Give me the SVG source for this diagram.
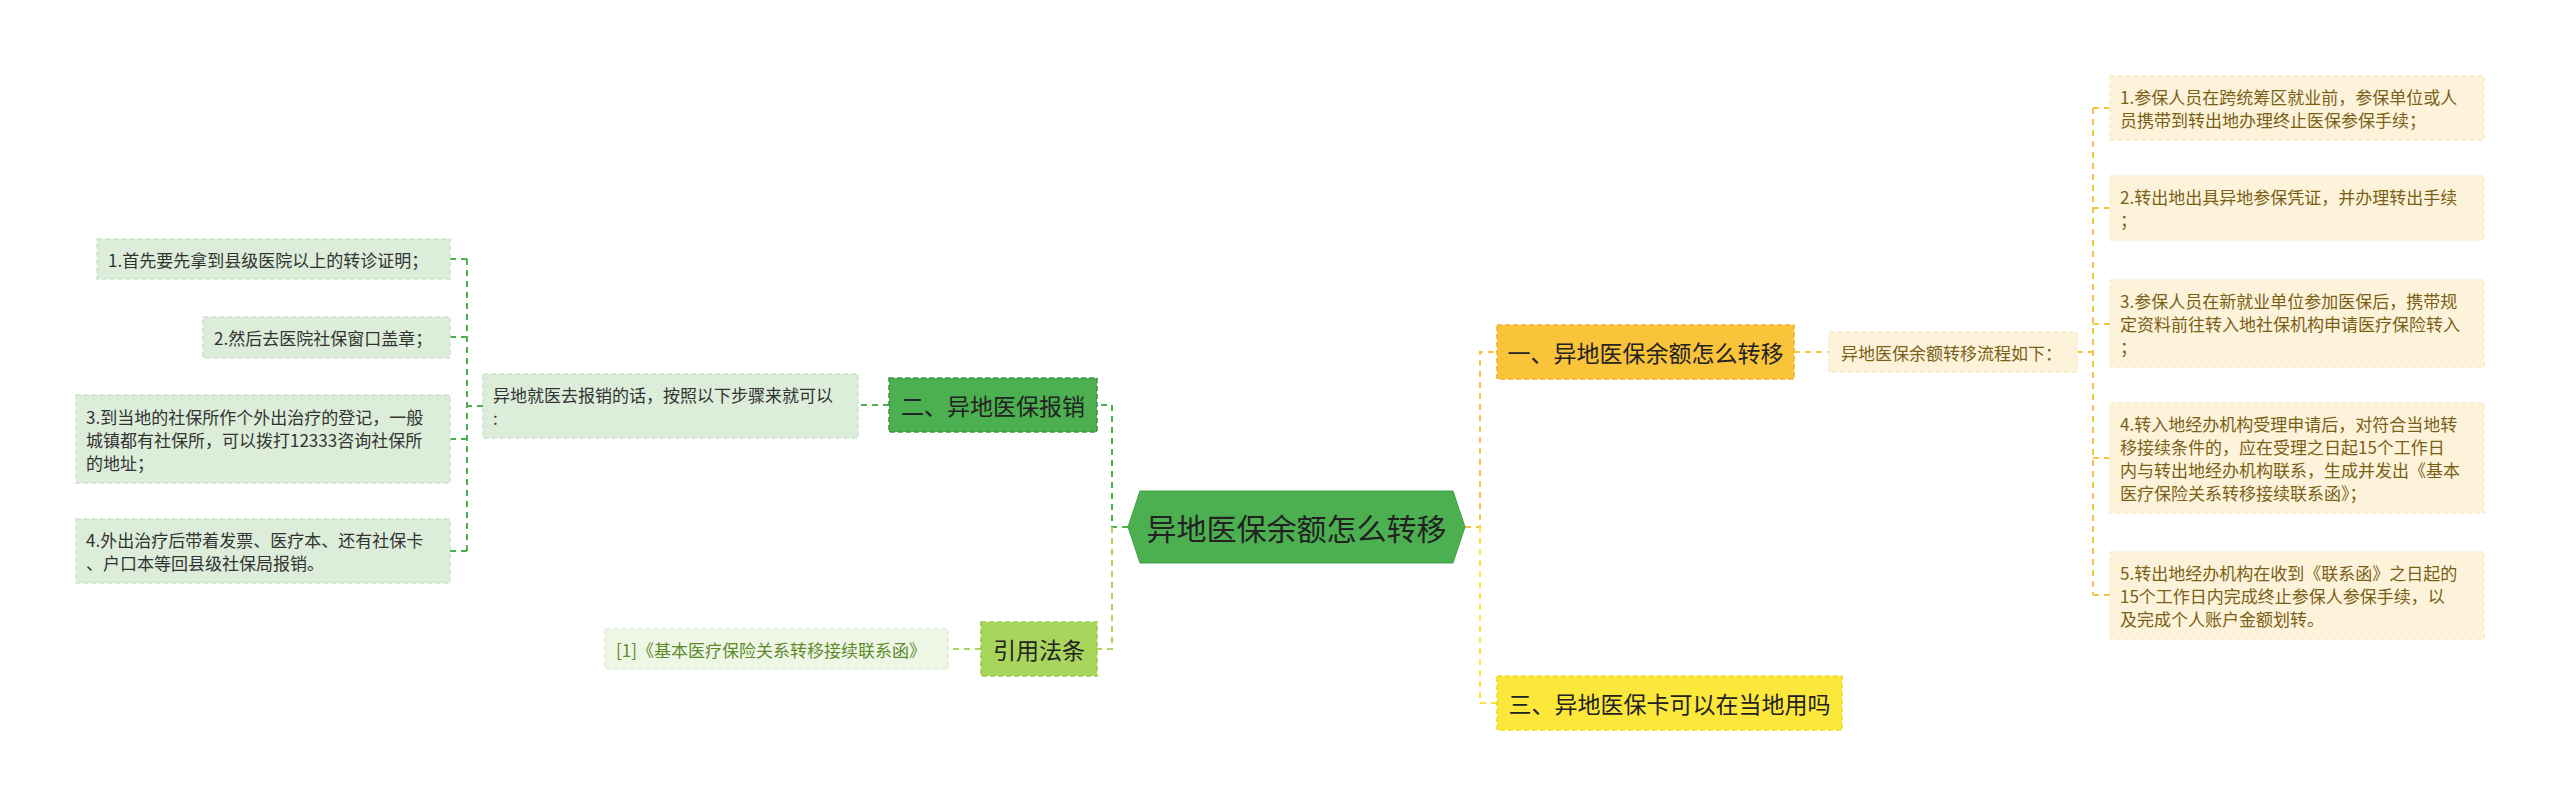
<svg xmlns="http://www.w3.org/2000/svg" width="2560" height="806" viewBox="0 0 2560 806">
<style>
text{font-family:"Noto Sans CJK SC","Noto Sans",sans-serif;dominant-baseline:central}
.c{fill:none;stroke-width:2;stroke-dasharray:6 5}
.g{stroke:#4caf50}.lg{stroke:#a8d65c}.o{stroke:#f6c343}.y{stroke:#fbe53b}
.lgbox{fill:#dcedda;stroke:#cde5cb;stroke-width:1.5;stroke-dasharray:5 3}
.crm{fill:#fdf3da;stroke:#f8ebc8;stroke-width:1.5;stroke-dasharray:5 3}
.t17{font-size:17px;fill:#333}
.tb{font-size:17px;fill:#7a5f16}
.t23{font-size:23px;fill:#222}
</style>
<g id="connectors">
  <path class="c g" d="M1128 527H1112V405H1097"/>
  <path class="c lg" d="M1112 527V649H1097"/>
  <path class="c lg" d="M981 649H948"/>
  <path class="c g" d="M889 405H858"/>
  <path class="c g" d="M483 406H467M467 259V551M450 259H467M450 337H467M450 439H467M450 551H467"/>
  <path class="c o" d="M1465 527H1480V352H1497"/>
  <path class="c y" d="M1480 527V703H1497"/>
  <path class="c o" d="M1794 352H1829"/>
  <path class="c o" d="M2077 352H2093M2093 108V595M2093 108H2110M2093 208H2110M2093 324H2110M2093 458H2110M2093 595H2110"/>
</g>
<g id="center">
  <polygon points="1128,527 1140,491 1453,491 1465,527 1453,563 1140,563" fill="#4caf50" stroke="#43a047" stroke-width="1"/>
  <text x="1296.5" y="527" text-anchor="middle" font-size="30" fill="#222">异地医保余额怎么转移</text>
</g>
<g id="n2">
  <rect x="889" y="378" width="208" height="54" fill="#4caf50" stroke="#3e9142" stroke-width="1.5" stroke-dasharray="5 3"/>
  <text class="t23" x="993" y="405" text-anchor="middle">二、异地医保报销</text>
</g>
<g id="n2a">
  <rect class="lgbox" x="483" y="374" width="375" height="64"/>
  <text class="t17" x="493" y="394.5">异地就医去报销的话，按照以下步骤来就可以</text>
  <text class="t17" x="493" y="417.5">:</text>
</g>
<g id="n2a1">
  <rect class="lgbox" x="97" y="239" width="353" height="40"/>
  <text class="t17" x="108" y="259">1.首先要先拿到县级医院以上的转诊证明；</text>
</g>
<g id="n2a2">
  <rect class="lgbox" x="203" y="317" width="247" height="41"/>
  <text class="t17" x="214" y="337.5">2.然后去医院社保窗口盖章；</text>
</g>
<g id="n2a3">
  <rect class="lgbox" x="76" y="395" width="374" height="88"/>
  <text class="t17" x="86" y="416.5">3.到当地的社保所作个外出治疗的登记，一般</text>
  <text class="t17" x="86" y="439.5">城镇都有社保所，可以拨打12333咨询社保所</text>
  <text class="t17" x="86" y="462.5">的地址；</text>
</g>
<g id="n2a4">
  <rect class="lgbox" x="76" y="519" width="374" height="64"/>
  <text class="t17" x="86" y="539.5">4.外出治疗后带着发票、医疗本、还有社保卡</text>
  <text class="t17" x="86" y="562.5">、户口本等回县级社保局报销。</text>
</g>
<g id="ref">
  <rect x="981" y="622" width="116" height="54" fill="#a8d65c" stroke="#98c84c" stroke-width="1.5" stroke-dasharray="5 3"/>
  <text class="t23" x="1039" y="649" text-anchor="middle">引用法条</text>
</g>
<g id="ref1">
  <rect x="605" y="629" width="343" height="40" fill="#eef6e5" stroke="#e4f0d8" stroke-width="1.5" stroke-dasharray="5 3"/>
  <text x="616" y="649" font-size="17" fill="#5d8a2a">[1]《基本医疗保险关系转移接续联系函》</text>
</g>
<g id="n1">
  <rect x="1497" y="325" width="297" height="54" fill="#f9c33a" stroke="#eeb025" stroke-width="1.5" stroke-dasharray="5 3"/>
  <text class="t23" x="1645.5" y="352" text-anchor="middle">一、异地医保余额怎么转移</text>
</g>
<g id="n1a">
  <rect class="crm" x="1829" y="332" width="248" height="40"/>
  <text class="tb" x="1841" y="352">异地医保余额转移流程如下：</text>
</g>
<g id="n1a1">
  <rect class="crm" x="2110" y="76" width="374" height="64"/>
  <text class="tb" x="2120" y="96.5">1.参保人员在跨统筹区就业前，参保单位或人</text>
  <text class="tb" x="2120" y="119.5">员携带到转出地办理终止医保参保手续；</text>
</g>
<g id="n1a2">
  <rect class="crm" x="2110" y="176" width="374" height="64"/>
  <text class="tb" x="2120" y="196.5">2.转出地出具异地参保凭证，并办理转出手续</text>
  <text class="tb" x="2120" y="219.5">；</text>
</g>
<g id="n1a3">
  <rect class="crm" x="2110" y="280" width="374" height="87"/>
  <text class="tb" x="2120" y="300.5">3.参保人员在新就业单位参加医保后，携带规</text>
  <text class="tb" x="2120" y="323.5">定资料前往转入地社保机构申请医疗保险转入</text>
  <text class="tb" x="2120" y="346.5">；</text>
</g>
<g id="n1a4">
  <rect class="crm" x="2110" y="403" width="374" height="110"/>
  <text class="tb" x="2120" y="423.5">4.转入地经办机构受理申请后，对符合当地转</text>
  <text class="tb" x="2120" y="446.5">移接续条件的，应在受理之日起15个工作日</text>
  <text class="tb" x="2120" y="469.5">内与转出地经办机构联系，生成并发出《基本</text>
  <text class="tb" x="2120" y="492.5">医疗保险关系转移接续联系函》；</text>
</g>
<g id="n1a5">
  <rect class="crm" x="2110" y="552" width="374" height="87"/>
  <text class="tb" x="2120" y="572.5">5.转出地经办机构在收到《联系函》之日起的</text>
  <text class="tb" x="2120" y="595.5">15个工作日内完成终止参保人参保手续，以</text>
  <text class="tb" x="2120" y="618.5">及完成个人账户金额划转。</text>
</g>
<g id="n3">
  <rect x="1497" y="676" width="345" height="54" fill="#fce83a" stroke="#f0d820" stroke-width="1.5" stroke-dasharray="5 3"/>
  <text class="t23" x="1669.5" y="703" text-anchor="middle">三、异地医保卡可以在当地用吗</text>
</g>
</svg>
